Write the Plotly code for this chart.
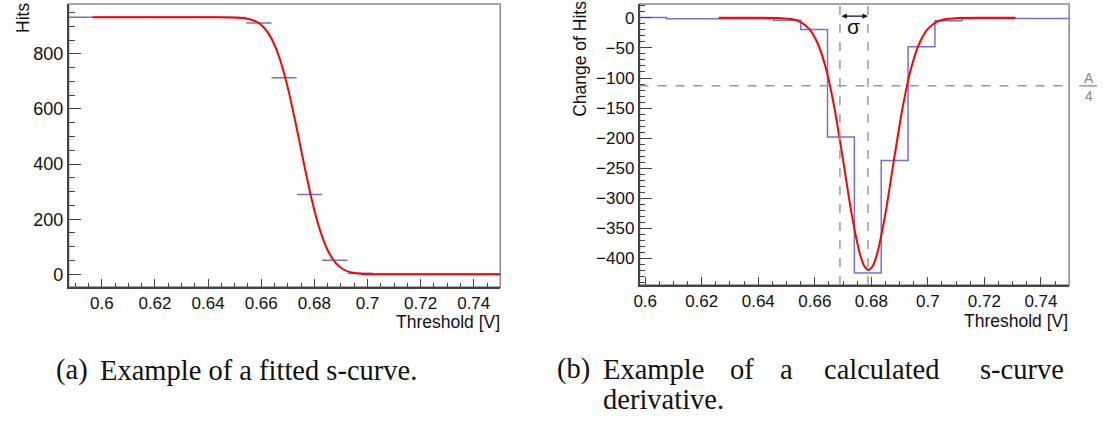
import plotly.graph_objects as go

# ---- (a) measured s-curve: hits per threshold step ----
scan_threshold = [0.5922, 0.6018, 0.6113, 0.6209, 0.6304, 0.6400, 0.6495, 0.6591, 0.6686,
                  0.6782, 0.6877, 0.6973, 0.7068, 0.7164, 0.7259, 0.7355, 0.7450]
scan_hits = [933, 933, 933, 933, 933, 933, 932, 912, 713, 290, 51, 4, 0, 0, 0, 0, 0]
step_half_width = 0.00475

# fitted s-curve, sampled
scurve_fit_x = [0.5965, 0.640, 0.645, 0.650, 0.654, 0.658, 0.661, 0.664, 0.667, 0.670, 0.673,
                0.676, 0.679, 0.682, 0.685, 0.688, 0.691, 0.694, 0.698, 0.702, 0.710, 0.750]
scurve_fit_y = [933, 933, 932.9, 932.2, 929.2, 917.8, 895.8, 853, 781.6, 677.5, 546.6,
                405, 271.7, 163.5, 87.6, 41.6, 17.5, 6.3, 1.3, 0.2, 0, 0]

# ---- (b) derivative histogram ----
deriv_edges = [0.598, 0.6075, 0.617, 0.6265, 0.636, 0.6455, 0.655, 0.6645, 0.674, 0.6835,
               0.693, 0.7025, 0.712, 0.7215, 0.731, 0.7405, 0.750]
deriv_change = [0.5, -1.5, -1.5, -1.5, -1.5, -4, -19.5, -198, -424, -237, -48, -5, -1, -1, -1, -1]

# gaussian fit of the derivative, sampled
deriv_fit_x = [0.626, 0.640, 0.648, 0.652, 0.655, 0.658, 0.661, 0.664, 0.667, 0.670, 0.673,
               0.676, 0.6775, 0.679, 0.6805, 0.682, 0.685, 0.688, 0.691, 0.694, 0.697, 0.700,
               0.703, 0.706, 0.710, 0.718, 0.731]
deriv_fit_y = [0, 0, -0.5, -2.4, -7.1, -18.4, -42.2, -85.1, -151, -236, -325,
               -393, -412.4, -419, -412.4, -393, -325, -236, -151, -85.1, -42.2, -18.4,
               -7.1, -2.4, -0.5, 0, 0]

sigma_lines = [0.6689, 0.6788]
quarter_amplitude = -113

BLUE = "#7272d2"
RED = "#ff0000"
AXIS = "#444444"
FRAME = "#8a8a8a"
DASH = "#9a9a9a"
SANS = "Liberation Sans, Arial, sans-serif"
SERIF = "Liberation Serif, Times New Roman, serif"

W, H = 1105, 423


def px(x):
    return x / W


def py(y):
    return 1 - y / H


fig = go.Figure()

# (a) data with horizontal bin-width bars
fig.add_trace(go.Scatter(
    x=scan_threshold, y=scan_hits, mode="markers",
    marker=dict(size=1, color=BLUE),
    error_x=dict(type="constant", value=step_half_width, color=BLUE, thickness=1.5, width=0),
    xaxis="x", yaxis="y", showlegend=False))
fig.add_trace(go.Scatter(
    x=scurve_fit_x, y=scurve_fit_y, mode="lines",
    line=dict(color=RED, width=2, shape="spline", smoothing=0.6),
    xaxis="x", yaxis="y", showlegend=False))

# (b) step histogram
step_x = deriv_edges
step_y = deriv_change + [deriv_change[-1]]
fig.add_trace(go.Scatter(
    x=step_x, y=step_y, mode="lines",
    line=dict(color=BLUE, width=1.5, shape="hv"),
    xaxis="x2", yaxis="y2", showlegend=False))
fig.add_trace(go.Scatter(
    x=deriv_fit_x, y=deriv_fit_y, mode="lines",
    line=dict(color=RED, width=2, shape="spline", smoothing=0.6),
    xaxis="x2", yaxis="y2", showlegend=False))

common_axis = dict(
    showline=True, linecolor=AXIS, linewidth=1.5, mirror=False,
    ticks="inside", tickcolor=AXIS, tickwidth=1.2,
    showgrid=False, zeroline=False,
)
font_a = dict(family=SANS, size=18, color="#111")
font_b = dict(family=SANS, size=17, color="#111")

fig.update_layout(
    width=W, height=H,
    margin=dict(l=0, r=0, t=0, b=0),
    paper_bgcolor="white", plot_bgcolor="white",
    xaxis=dict(domain=[px(63), px(497)], range=[0.5875, 0.75], anchor="y",
               dtick=0.02, tick0=0.6, ticklen=8, tickfont=font_b,
               minor=dict(ticks="inside", dtick=0.005, tick0=0.6, ticklen=4, tickcolor=AXIS),
               **common_axis),
    yaxis=dict(domain=[py(287), py(4)], range=[-46, 981], anchor="x",
               dtick=200, tick0=0, ticklen=13, tickfont=font_a,
               minor=dict(ticks="inside", dtick=50, tick0=0, ticklen=7, tickcolor=AXIS),
               **common_axis),
    xaxis2=dict(domain=[px(637), px(1069)], range=[0.598, 0.75], anchor="y2",
                dtick=0.02, tick0=0.6, ticklen=8, tickfont=font_b,
                minor=dict(ticks="inside", dtick=0.005, tick0=0.6, ticklen=4, tickcolor=AXIS),
                **common_axis),
    yaxis2=dict(domain=[py(285), py(4)], range=[-444, 23], anchor="x2",
                dtick=50, tick0=0, ticklen=13, tickfont=font_b,
                minor=dict(ticks="inside", dtick=10, tick0=0, ticklen=6, tickcolor=AXIS),
                **common_axis),
)

shapes = []
# frames around both plot areas
for xa, ya in (("x", "y"), ("x2", "y2")):
    shapes.append(dict(type="rect", xref=f"{xa} domain", yref=f"{ya} domain",
                       x0=0, x1=1, y0=0, y1=1, line=dict(color=FRAME, width=1.5),
                       layer="below"))
# sigma markers and A/4 level
for xv in sigma_lines:
    shapes.append(dict(type="line", xref="x2", yref="y2 domain", x0=xv, x1=xv, y0=0, y1=1,
                       line=dict(color=DASH, width=1.5, dash="dash")))
shapes.append(dict(type="line", xref="x2 domain", yref="y2", x0=0, x1=1,
                   y0=quarter_amplitude, y1=quarter_amplitude,
                   line=dict(color=DASH, width=1.5, dash="dash")))
# fraction bar of A/4
shapes.append(dict(type="line", xref="paper", yref="y2", x0=px(1079), x1=px(1097),
                   y0=quarter_amplitude, y1=quarter_amplitude,
                   line=dict(color=DASH, width=1.5)))
fig.update_layout(shapes=shapes)

ann = []
# axis titles
ann.append(dict(text="Hits", xref="paper", yref="paper", x=px(17), y=py(18),
                textangle=-90, showarrow=False, font=dict(family=SANS, size=17.5, color="#111"),
                xanchor="center", yanchor="middle"))
ann.append(dict(text="Threshold [V]", xref="paper", yref="paper", x=px(498), y=py(322),
                showarrow=False, font=dict(family=SANS, size=17.5, color="#111"),
                xanchor="right", yanchor="middle", borderpad=0))
ann.append(dict(text="Change of Hits", xref="paper", yref="paper", x=px(577), y=py(59),
                textangle=-90, showarrow=False, font=dict(family=SANS, size=17.5, color="#111"),
                xanchor="center", yanchor="middle"))
ann.append(dict(text="Threshold [V]", xref="paper", yref="paper", x=px(1069), y=py(321),
                showarrow=False, font=dict(family=SANS, size=17.5, color="#111"),
                xanchor="right", yanchor="middle", borderpad=0))
# sigma width arrow and label
ann.append(dict(x=sigma_lines[1], y=2.8, ax=sigma_lines[0], ay=2.8, xref="x2", yref="y2",
                axref="x2", ayref="y2", text="", showarrow=True, arrowside="end+start",
                arrowhead=2, arrowsize=0.9, arrowwidth=1.2, arrowcolor="#111",
                standoff=0, startstandoff=0))
ann.append(dict(text="σ", xref="x2", yref="paper", x=sum(sigma_lines) / 2, y=py(27),
                showarrow=False, font=dict(family=SANS, size=21, color="#111"),
                xanchor="center", yanchor="middle"))
# A/4 label
ann.append(dict(text="A", xref="paper", yref="paper", x=px(1088.5), y=py(78),
                showarrow=False, font=dict(family=SANS, size=14, color="#888"),
                xanchor="center", yanchor="middle"))
ann.append(dict(text="4", xref="paper", yref="paper", x=px(1088.5), y=py(96),
                showarrow=False, font=dict(family=SANS, size=14, color="#888"),
                xanchor="center", yanchor="middle"))

# captions
cap_font = dict(family=SERIF, size=28.5, color="#111")


def caption(text, x, y, anchor="left"):
    ann.append(dict(text=text, xref="paper", yref="paper", x=px(x), y=py(y),
                    showarrow=False, font=cap_font, xanchor=anchor, yanchor="middle",
                    borderpad=0))


caption("(a)", 49, 370)
caption("Example of a fitted s-curve.", 94, 370)
caption("(b)", 553, 369)
caption("Example", 599, 369)
caption("of", 727, 369)
caption("a", 777, 369)
caption("calculated", 821, 369)
caption("s-curve", 1065, 369, anchor="right")
caption("derivative.", 599, 399)

fig.update_layout(annotations=ann)

fig.write_html("out.html")
